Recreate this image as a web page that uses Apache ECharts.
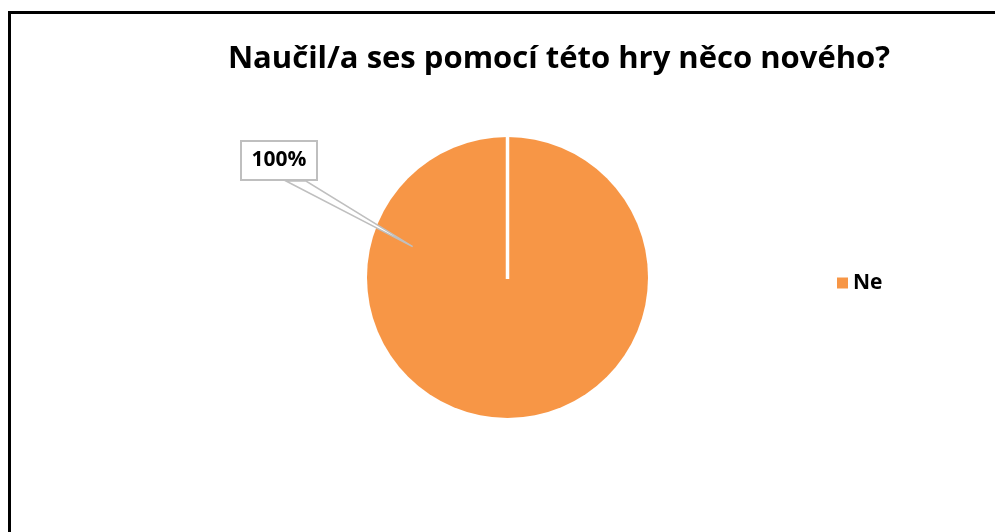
<!DOCTYPE html>
<html>
<head>
<meta charset="utf-8">
<script src="https://cdn.jsdelivr.net/npm/echarts@6/dist/echarts.min.js"></script>
<style>
  html, body { margin: 0; padding: 0; background: #fff; }
  #chart { width: 995px; height: 532px; }
</style>
</head>
<body>
<div id="chart"></div>
<script>
// Survey answers
const categories = ['Ne'];
const values = [100];
const titleText = 'Naučil/a ses pomocí této hry něco nového?';

const FONT = '"Open Sans", sans-serif';
const ORANGE = '#F79646';
const CX = 507.5, CY = 277.5, R = 140.5;

const chart = echarts.init(document.getElementById('chart'));

// callout anchor inside the slice, expressed relative to the pie geometry
const anchorAngle = Math.PI + 0.315;
const tipX = CX + Math.cos(anchorAngle) * R * 0.71;
const tipY = CY + Math.sin(anchorAngle) * R * 0.71;
const boxX = 240, boxY = 140, boxW = 78, boxH = 41;

chart.setOption({
  animation: false,
  backgroundColor: '#fff',
  title: {
    text: titleText,
    left: 554,
    top: 39,
    textAlign: 'center',
    textStyle: { fontFamily: FONT, fontWeight: 700, fontSize: 31, color: '#000' }
  },
  legend: {
    data: categories,
    orient: 'vertical',
    left: 832,
    top: 267,
    itemWidth: 11,
    itemHeight: 11,
    itemGap: 10,
    icon: 'rect',
    textStyle: { fontFamily: FONT, fontWeight: 700, fontSize: 21, lineHeight: 22, color: '#000', padding: 0 }
  },
  graphic: [
    {
      type: 'rect', z: 100, silent: true,
      shape: { x: 9.5, y: 12.5, width: 1200, height: 800 },
      style: { fill: 'none', stroke: '#000', lineWidth: 3 }
    },
    {
      // radial seam of the single slice
      type: 'line', z: 10, silent: true,
      shape: { x1: CX, y1: CY + 1.5, x2: CX, y2: CY - R - 2 },
      style: { stroke: '#fff', lineWidth: 3.5 }
    },
    {
      // callout pointer from the label box into the slice
      type: 'polygon', z: 11, silent: true,
      shape: { points: [[boxX + 46, boxY + boxH], [tipX, tipY], [boxX + 66, boxY + boxH]] },
      style: { fill: '#fff', stroke: '#BFBFBF', lineWidth: 1.5 }
    }
  ],
  series: [{
    type: 'pie',
    center: [CX, CY],
    radius: [0, R],
    startAngle: 90,
    clockwise: true,
    z: 2,
    itemStyle: { color: ORANGE, borderWidth: 0 },
    emphasis: { disabled: true },
    data: categories.map((c, i) => ({ name: c, value: values[i] })),
    label: {
      show: true,
      position: 'outside',
      formatter: p => Math.round(p.percent) + '%',
      fontFamily: FONT,
      fontWeight: 700,
      fontSize: 21,
      color: '#000',
      backgroundColor: '#fff',
      borderColor: '#BFBFBF',
      borderWidth: 2,
      width: boxW - 4,
      height: boxH - 4,
      lineHeight: boxH - 4,
      align: 'center',
      verticalAlign: 'middle'
    },
    labelLine: { show: false },
    labelLayout: {
      x: boxX + boxW / 2,
      y: boxY + boxH / 2,
      align: 'center',
      verticalAlign: 'middle'
    }
  }]
});
</script>
</body>
</html>
